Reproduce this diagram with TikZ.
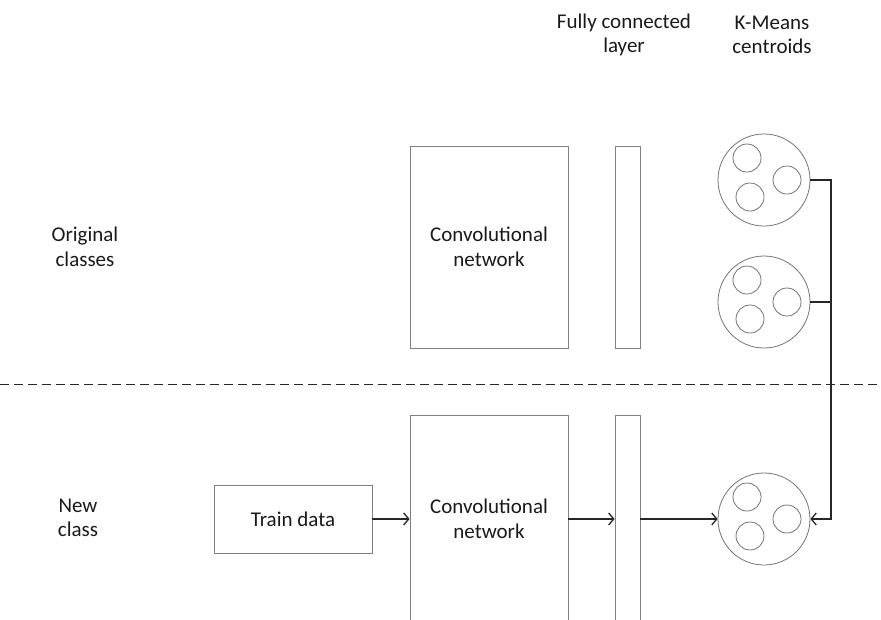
\documentclass[tikz,border=0pt]{standalone}
\usepackage{fontspec}
\setmainfont{Carlito}
\usetikzlibrary{arrows.meta,calc,positioning}
\tikzset{%
	block/.style   = {draw=black!50, line width=0.9pt, align=center, text=black!90},
	cluster/.style = {draw=black!55, line width=0.8pt, circle, minimum size=92pt, inner sep=0pt},
	centroid/.style= {draw=black!55, line width=0.8pt, circle, minimum size=28pt, inner sep=0pt},
	caption/.style = {align=center, text=black!90},
	arrow/.style   = {line width=1.3pt, draw=black!85, -{Straight Barb[length=5pt,width=12pt]}},
	link/.style    = {line width=1.3pt, draw=black!85},
}

\begin{document}
\begin{tikzpicture}[x=1pt,y=-1pt,font=\fontsize{21}{24.5}\selectfont]
		\useasboundingbox (0,0) rectangle (881,619);
		\clip (0,0) rectangle (881,619);
		% column headers and row labels
		\node[caption] (fchead) at (624,35) {Fully connected\\layer};
		\node[caption] (kmhead) at (772,35) {K-Means\\centroids};
		\node[caption] (orig) at (85,247) {Original\\classes};
		\node[caption] (new) at (78,518) {New\\class};
		% upper row
		\node[block, minimum width=158pt, minimum height=202pt] (conv1) at (489,247) {Convolutional\\network};
		\node[block, minimum width=25pt, minimum height=202pt] (fc1) at (627.5,247) {};
		\node[cluster] (km1) at (764,180) {};
		\node[cluster] (km2) at (764,302) {};
		% separator
		\draw[line width=1pt, black!85, dash pattern=on 9pt off 5pt] (0,384) -- (881,384);
		% lower row, boxes run past the bottom edge
		\node[block, minimum width=158pt, minimum height=68pt] (train) at (293,519) {Train data};
		\node[block, minimum width=158pt, minimum height=208pt] (conv2) at (489,519) {Convolutional\\network};
		\node[block, minimum width=25pt, minimum height=208pt] (fc2) at (627.5,519) {};
		\node[cluster] (km3) at (764,519) {};
		% centroids inside each cluster
		\foreach \k in {km1,km2,km3}{
			\node[centroid] at ($(\k)+(-17,-22)$) {};
			\node[centroid] at ($(\k)+(23,0)$) {};
			\node[centroid] at ($(\k)+(-14,17)$) {};
		}
		% flow
		\draw[arrow] (train) -- (conv2);
		\draw[arrow] (conv2) -- (fc2);
		\draw[arrow] (fc2) -- (km3);
		\coordinate (bus) at (831,519);
		\draw[arrow] (km1.east) -| (bus) -- (km3.east);
		\draw[link] (km2.east) -- (km2.east -| bus);
	\end{tikzpicture}
\end{document}
